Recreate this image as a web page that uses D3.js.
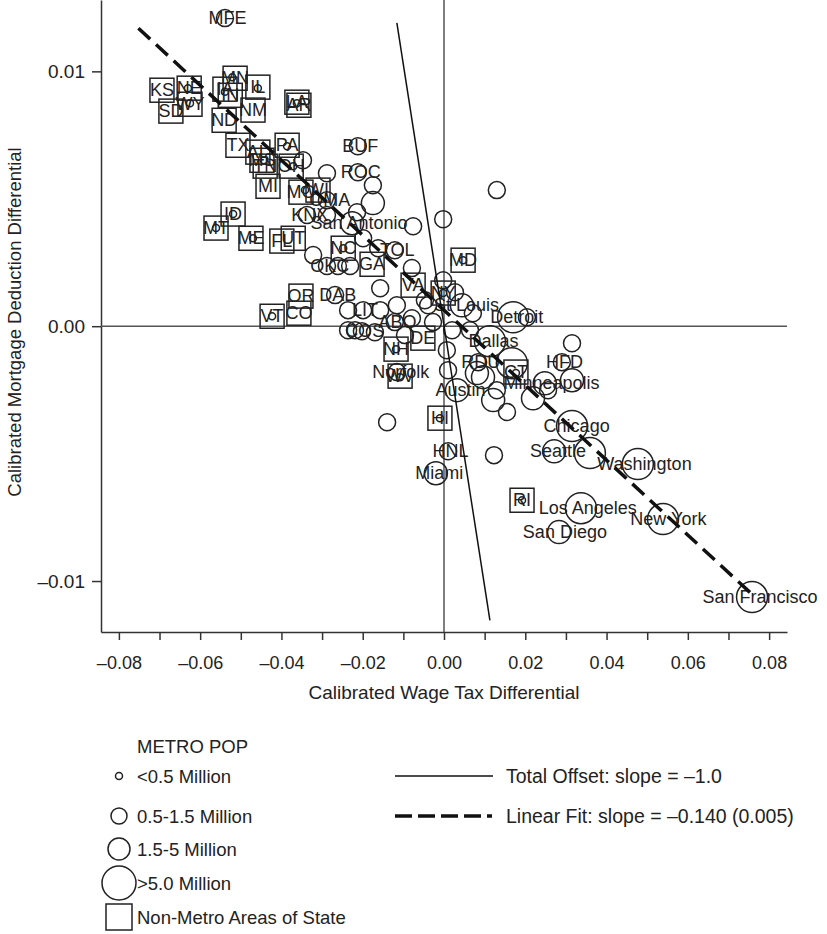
<!DOCTYPE html>
<html>
<head>
<meta charset="utf-8">
<script src="https://cdn.jsdelivr.net/npm/d3@7"></script>
<style>
  body { margin: 0; background: #fff; }
  text { font-family: "Liberation Sans", Arial, sans-serif; fill: #222; }
</style>
</head>
<body>
<script>
// Metro areas (circles): label, wage tax diff, mortgage diff, pop class (0:<0.5M 1:0.5-1.5M 2:1.5-5M 3:>5M)
const metroNames = ["MFE","","","","","","","","","","","","","","","","","","","","","","",
  "","","BUF","ROC","","","OMA","KNX","","","San Antonio","","","","","TOL","","","OKC","","","",
  "","DAB","","LIT","","","","","COS","ABQ","","","","","St Louis","","Detroit","","Dallas","",
  "RDU","","","","Austin","","","","Minneapolis","","","HFD","","","Norfolk","","HNL","Miami","",
  "Chicago","Seattle","","Washington","Los Angeles","San Diego","New York","San Francisco",
  "","","","","","",""];
const metroX = [-0.0539,-0.0630,-0.0625,-0.0521,-0.0458,-0.0539,-0.0362,-0.0386,-0.0371,-0.0443,
  -0.0519,-0.0561,-0.0470,-0.0342,-0.0248,0.0047,-0.0118,-0.0108,-0.0010,0.0192,0.0177,-0.0423,-0.0002,
  -0.0347,-0.0288,-0.0212,-0.0212,-0.0175,-0.0175,-0.0288,-0.0337,-0.0288,-0.0214,-0.0226,-0.0076,
  -0.0002,0.0130,-0.0199,-0.0121,-0.0162,-0.0322,-0.0288,-0.0261,-0.0231,-0.0079,-0.0157,-0.0268,
  -0.0236,-0.0199,-0.0157,-0.0116,-0.0236,-0.0219,-0.0202,-0.0121,-0.0079,-0.0039,-0.0002,0.0027,
  0.0044,0.0071,0.0170,0.0204,0.0113,0.0167,0.0084,0.0007,0.0010,0.0081,0.0032,0.0121,0.0219,
  0.0256,0.0248,0.0315,0.0315,0.0290,0.0130,0.0096,-0.0116,-0.0140,0.0010,-0.0020,0.0123,
  0.0315,0.0271,0.0359,0.0477,0.0337,0.0283,0.0539,0.0758,
  -0.0047,0.0020,0.0064,-0.0027,-0.0096,-0.0170,0.0155];
const metroY = [0.01209,0.00934,0.00875,0.00977,0.00934,0.00920,0.00875,0.00706,0.00628,0.00651,
  0.00440,0.00385,0.00345,0.00534,0.00306,0.00259,-0.00090,-0.00200,-0.00361,-0.00683,-0.00184,0.00039,0.00130,
  0.00651,0.00600,0.00706,0.00604,0.00553,0.00483,0.00494,0.00436,0.00436,0.00447,0.00404,0.00392,
  0.00420,0.00534,0.00345,0.00298,0.00306,0.00279,0.00236,0.00236,0.00236,0.00228,0.00149,0.00122,
  0.00063,0.00063,0.00063,0.00082,-0.00016,-0.00016,-0.00020,0.00016,0.00031,0.00082,0.00180,0.00133,
  0.00082,0.00051,0.00035,0.00035,-0.00059,-0.00145,-0.00141,-0.00094,-0.00173,-0.00184,-0.00251,-0.00290,-0.00283,
  -0.00251,-0.00224,-0.00212,-0.00067,-0.00141,-0.00251,-0.00200,-0.00180,-0.00377,-0.00491,-0.00577,-0.00506,
  -0.00392,-0.00491,-0.00498,-0.00541,-0.00714,-0.00808,-0.00757,-0.01063,
  0.00102,-0.00016,-0.00016,0.00016,-0.00035,-0.00024,-0.00337];
const metroPop = [1,0,0,0,0,0,0,0,0,0,0,0,0,0,0,0,0,0,0,0,0,0,0,
  1,1,1,1,1,2,1,1,1,1,2,1,1,1,1,1,1,1,1,1,1,1,1,1,
  1,1,1,1,1,1,1,1,1,1,1,1,2,1,3,1,3,3,1,1,1,2,2,2,2,
  1,2,2,1,1,1,2,1,1,1,2,1,3,2,3,3,3,2,3,3,
  1,1,1,1,1,1,1];

// Non-metro areas of states (squares)
const stateNames = ["KS","NE","SD","WY","MN","IA","IL","IN","NM","ND","LA","AR","TX","PA","AL","MS",
  "TN","OH","MI","WI","MO","ID","MT","ME","FL","UT","NC","GA","OR","CO","VT","VA","NY","MD","NH",
  "DE","WV","HI","RI","CT"];
const stateX = [-0.0694,-0.0627,-0.0672,-0.0625,-0.0514,-0.0539,-0.0458,-0.0526,-0.0470,-0.0541,
  -0.0362,-0.0357,-0.0507,-0.0386,-0.0458,-0.0448,-0.0440,-0.0376,-0.0433,-0.0310,-0.0352,-0.0519,
  -0.0561,-0.0475,-0.0399,-0.0371,-0.0248,-0.0177,-0.0352,-0.0357,-0.0423,-0.0076,-0.0002,0.0047,
  -0.0118,-0.0052,-0.0108,-0.0010,0.0192,0.0177];
const stateY = [0.00926,0.00934,0.00844,0.00871,0.00973,0.00930,0.00938,0.00906,0.00848,0.00808,
  0.00879,0.00867,0.00710,0.00710,0.00683,0.00651,0.00628,0.00628,0.00549,0.00534,0.00526,0.00440,
  0.00385,0.00345,0.00334,0.00345,0.00306,0.00243,0.00118,0.00051,0.00039,0.00161,0.00130,0.00259,
  -0.00090,-0.00047,-0.00196,-0.00361,-0.00683,-0.00180];

// Reference lines
const offsetX = [-0.0116, 0.0113];
const offsetY = [0.0119, -0.01154];
const fitX = [-0.0752, 0.0760];
const fitY = [0.01169, -0.01055];

const xTicks = [-0.08,-0.07,-0.06,-0.05,-0.04,-0.03,-0.02,-0.01,0,0.01,0.02,0.03,0.04,0.05,0.06,0.07,0.08];
const yTicks = [-0.01, 0, 0.01];
const popLabels = ["<0.5 Million","0.5-1.5 Million","1.5-5 Million",">5.0 Million"];

const radius = [3.5, 8.5, 11.5, 15.5];
const legendRadius = [3.5, 8, 11, 17];

let svg = d3.select("body").append("svg").attr("width", 827).attr("height", 934);

let x = d3.scaleLinear().domain([-0.0844, 0.0844]).range([101, 787]);
let y = d3.scaleLinear().domain([0.0128, -0.0120]).range([0, 632]);

const dash = v => (v < 0 ? "\u2013" : "") + Math.abs(v).toFixed(2);
const font = '"Liberation Sans", Arial, sans-serif';

// axes
let xAxis = d3.axisBottom(x).tickValues(xTicks).tickSize(8).tickSizeOuter(0)
  .tickFormat(v => Math.round(Math.abs(v) * 100) % 2 === 0 ? dash(v) : "");
let gx = svg.append("g").attr("transform", "translate(0,632)").call(xAxis);
gx.selectAll("text").attr("font-size", 18).attr("y", 24).attr("dy", "0.71em")
  .style("font-family", font).attr("fill", "#222");

let yAxis = d3.axisLeft(y).tickValues(yTicks).tickSize(9).tickSizeOuter(0).tickFormat(dash);
let gy = svg.append("g").attr("transform", "translate(101,0)").call(yAxis);
gy.selectAll("text").attr("font-size", 19).attr("x", -16).style("font-family", font).attr("fill", "#222");

svg.selectAll(".domain").attr("stroke", "#333").attr("stroke-width", 1.5);
svg.selectAll(".tick line").attr("stroke", "#333").attr("stroke-width", 1.5);

// zero lines
svg.append("line").attr("x1", x(0)).attr("x2", x(0)).attr("y1", 0).attr("y2", 632)
  .attr("stroke", "#555").attr("stroke-width", 1.5);
svg.append("line").attr("x1", 101).attr("x2", 787).attr("y1", y(0)).attr("y2", y(0))
  .attr("stroke", "#555").attr("stroke-width", 1.5);

// axis titles
svg.append("text").attr("x", 444).attr("y", 699).attr("text-anchor", "middle")
  .attr("font-size", 19).text("Calibrated Wage Tax Differential");
svg.append("text").attr("transform", "translate(21,322) rotate(-90)").attr("text-anchor", "middle")
  .attr("font-size", 18.5).text("Calibrated Mortgage Deduction Differential");

// markers
let plot = svg.append("g");
plot.selectAll("rect.state").data(stateNames).enter().append("rect")
  .attr("x", (d, i) => x(stateX[i]) - 12).attr("y", (d, i) => y(stateY[i]) - 12)
  .attr("width", 24).attr("height", 24)
  .attr("fill", "none").attr("stroke", "#222").attr("stroke-width", 1.5);

plot.selectAll("circle.metro").data(metroNames).enter().append("circle")
  .attr("cx", (d, i) => x(metroX[i])).attr("cy", (d, i) => y(metroY[i]))
  .attr("r", (d, i) => radius[metroPop[i]])
  .attr("fill", "none").attr("stroke", "#222").attr("stroke-width", 1.5);

// lines
let line = d3.line().x(d => x(d[0])).y(d => y(d[1]));
svg.append("path").attr("d", line(offsetX.map((v, i) => [v, offsetY[i]])))
  .attr("stroke", "#111").attr("stroke-width", 1.5).attr("fill", "none");
svg.append("path").attr("d", line(fitX.map((v, i) => [v, fitY[i]])))
  .attr("stroke", "#111").attr("stroke-width", 3.5).attr("stroke-dasharray", "16,8").attr("fill", "none");

// labels
plot.selectAll("text.state").data(stateNames).enter().append("text")
  .attr("x", (d, i) => x(stateX[i])).attr("y", (d, i) => y(stateY[i]))
  .attr("text-anchor", "middle").attr("dominant-baseline", "central")
  .attr("font-size", 18).text(d => d);

plot.selectAll("text.metro").data(metroNames).enter().append("text")
  .attr("x", (d, i) => x(metroX[i])).attr("y", (d, i) => y(metroY[i]))
  .attr("text-anchor", "middle").attr("dominant-baseline", "central")
  .attr("font-size", 18).text(d => d)
  .attr("dx", function () { return this.getComputedTextLength() * 0.07; });

// legend
let leg = svg.append("g");
leg.append("text").attr("x", 137).attr("y", 746).attr("dominant-baseline", "central")
  .attr("font-size", 18.5).text("METRO POP");
const rowY = [776, 816, 849, 883];
popLabels.forEach((t, i) => {
  leg.append("circle").attr("cx", 119).attr("cy", rowY[i]).attr("r", legendRadius[i])
    .attr("fill", "none").attr("stroke", "#222").attr("stroke-width", 1.5);
  leg.append("text").attr("x", 137).attr("y", rowY[i]).attr("dominant-baseline", "central")
    .attr("font-size", 18.5).text(t);
});
leg.append("rect").attr("x", 106).attr("y", 904).attr("width", 26).attr("height", 26)
  .attr("fill", "none").attr("stroke", "#222").attr("stroke-width", 1.5);
leg.append("text").attr("x", 137).attr("y", 917).attr("dominant-baseline", "central")
  .attr("font-size", 18.5).text("Non-Metro Areas of State");

leg.append("line").attr("x1", 395).attr("x2", 493).attr("y1", 776).attr("y2", 776)
  .attr("stroke", "#111").attr("stroke-width", 1.5);
leg.append("text").attr("x", 506).attr("y", 776).attr("dominant-baseline", "central")
  .attr("font-size", 19.5).text("Total Offset: slope = \u20131.0");
leg.append("line").attr("x1", 395).attr("x2", 493).attr("y1", 816).attr("y2", 816)
  .attr("stroke", "#111").attr("stroke-width", 3.5).attr("stroke-dasharray", "17,6,17,6,17,6,17,6,5,100");
leg.append("text").attr("x", 506).attr("y", 816).attr("dominant-baseline", "central")
  .attr("font-size", 19.5).text("Linear Fit: slope = \u20130.140 (0.005)");
</script>
</body>
</html>
